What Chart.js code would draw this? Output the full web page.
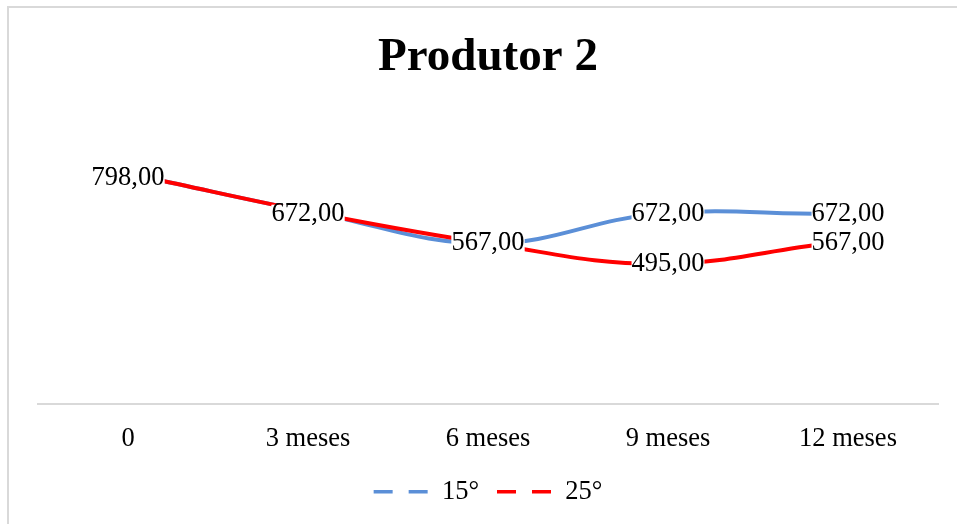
<!DOCTYPE html>
<html>
<head>
<meta charset="utf-8">
<script src="https://cdn.jsdelivr.net/npm/chart.js@4.4.1/dist/chart.umd.min.js"></script>
<style>
  html, body { margin: 0; padding: 0; background: #fff; }
  #wrap { width: 957px; height: 524px; position: relative; }
</style>
</head>
<body>
<div id="wrap"><canvas id="chart"></canvas></div>
<script>
// Categories and series
const categories = ['0', '3 meses', '6 meses', '9 meses', '12 meses'];
const seriesNames = ['15°', '25°'];
const values15 = [798, 672, 567, 672, 672];
const values25 = [798, 672, 567, 495, 567];

const SERIF = "'Liberation Serif', 'Times New Roman', serif";
const BLUE = '#5b8fd7';
const RED = '#ff0000';
const TEXT_SIZE = 26.5;

const fmt = v => v.toFixed(2).replace('.', ',');
const toPoints = arr => arr.map((v, i) => ({ x: i, y: v }));

// Outer frame of the chart (top and left edges)
const framePlugin = {
  id: 'frame',
  beforeDraw(chart) {
    const ctx = chart.ctx;
    ctx.save();
    ctx.fillStyle = '#fff';
    ctx.fillRect(0, 0, chart.width, chart.height);
    ctx.fillStyle = '#d9d9d9';
    ctx.fillRect(7, 6, chart.width - 7, 2);
    ctx.fillRect(7, 6, 2, chart.height - 6);
    ctx.restore();
  }
};

// Value labels centred on each category, at the value's height
const valueLabels = {
  id: 'valueLabels',
  afterDatasetsDraw(chart) {
    const ctx = chart.ctx;
    const xs = chart.scales.x;
    const ys = chart.scales.y;
    ctx.save();
    ctx.font = `${TEXT_SIZE}px ${SERIF}`;
    ctx.textAlign = 'center';
    ctx.textBaseline = 'middle';
    chart.data.datasets.forEach(ds => {
      ds.data.forEach((p, i) => {
        const x = xs.getPixelForValue(i);
        const y = ys.getPixelForValue(p.y);
        const txt = fmt(p.y);
        const w = ctx.measureText(txt).width;
        ctx.fillStyle = '#fff';
        ctx.fillRect(x - w / 2, y - 9, w, 18);
        ctx.fillStyle = '#000';
        ctx.fillText(txt, x, y);
      });
    });
    ctx.restore();
  }
};

new Chart(document.getElementById('chart'), {
  type: 'line',
  data: {
    labels: categories,
    datasets: [
      {
        label: seriesNames[0],
        data: toPoints(values15),
        borderColor: BLUE,
        backgroundColor: BLUE,
        borderWidth: 4,
        pointRadius: 0,
        tension: 0.4,
        xAxisID: 'xp',
        order: 2
      },
      {
        label: seriesNames[1],
        data: toPoints(values25),
        borderColor: RED,
        backgroundColor: RED,
        borderWidth: 4,
        pointRadius: 0,
        tension: 0.4,
        xAxisID: 'xp',
        order: 1
      }
    ]
  },
  options: {
    responsive: true,
    maintainAspectRatio: false,
    devicePixelRatio: 1,
    animation: false,
    layout: { padding: { left: 38, right: 19, top: 0, bottom: 9 } },
    scales: {
      x: {
        type: 'category',
        offset: true,
        grid: { display: false, drawTicks: false },
        border: { display: true, color: '#d9d9d9', width: 2 },
        ticks: { color: '#000', font: { family: SERIF, size: TEXT_SIZE }, padding: 19 },
        afterFit(scale) { scale.height -= 13; }
      },
      xp: {
        type: 'linear',
        display: false,
        min: -0.662,
        max: 4.656
      },
      y: {
        display: false,
        min: 0,
        max: 900
      }
    },
    plugins: {
      title: {
        display: true,
        text: 'Produtor 2',
        color: '#000',
        font: { family: SERIF, size: 47, weight: 'bold' },
        padding: { top: 30, bottom: 63 }
      },
      legend: {
        position: 'bottom',
        labels: {
          color: '#000',
          font: { family: SERIF, size: TEXT_SIZE },
          usePointStyle: true,
          pointStyle: 'line',
          pointStyleWidth: 55,
          padding: 18,
          sort: (a, b) => a.datasetIndex - b.datasetIndex,
          generateLabels(chart) {
            return chart.data.datasets.map((ds, i) => ({
              text: ds.label,
              fillStyle: ds.borderColor,
              strokeStyle: ds.borderColor,
              lineWidth: 3.5,
              lineDash: [19, 16],
              pointStyle: 'line',
              fontColor: '#000',
              hidden: false,
              datasetIndex: i
            }));
          }
        }
      },
      tooltip: { enabled: false }
    }
  },
  plugins: [framePlugin, valueLabels]
});
</script>
</body>
</html>
